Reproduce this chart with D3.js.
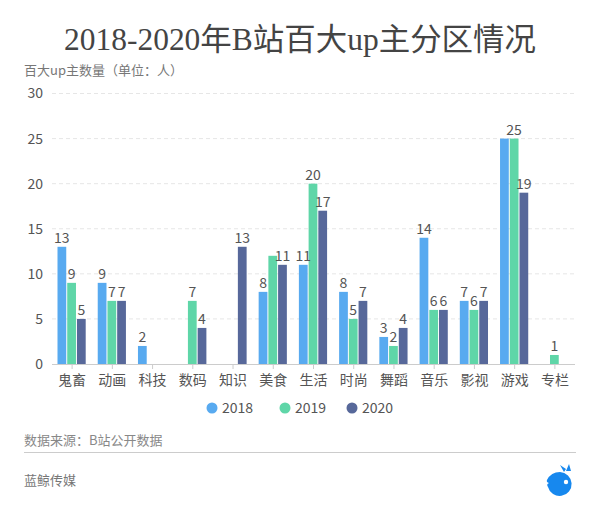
<!DOCTYPE html>
<html><head><meta charset="utf-8">
<script src="https://cdn.jsdelivr.net/npm/d3@7/dist/d3.min.js"></script>
<style>body{margin:0;background:#fff;}svg{display:block;}</style>
</head><body>
<svg id="chart" width="600" height="510"></svg>
<script>
const categories = ["鬼畜","动画","科技","数码","知识","美食","生活","时尚","舞蹈","音乐","影视","游戏","专栏"];
const seriesNames = ["2018","2019","2020"];
const values2018 = [13,9,2,0,0,8,11,8,3,14,7,25,0];
const values2019 = [9,7,0,7,0,12,20,5,2,6,6,25,1];
const values2020 = [5,7,0,4,13,11,17,7,4,6,7,19,0];
const yTicks = [0,5,10,15,20,25,30];
const hiddenLabels = [["美食","2019"],["游戏","2018"]];
const colors = ["#58aaf0","#5fd6a8","#57689a"];

const svg = d3.select("#chart");
const FONT = "'Noto Sans CJK SC','Open Sans',sans-serif";
const plotL = 52, plotR = 575, plotT = 93.5, plotB = 364;

// title
svg.append("text").attr("x",300).attr("y",50).attr("text-anchor","middle")
  .attr("font-family","'Liberation Serif','DejaVu Serif','Noto Sans CJK SC',serif")
  .attr("font-size",31).attr("fill","#444")
  .attr("textLength",472).attr("lengthAdjust","spacingAndGlyphs")
  .text("2018-2020年B站百大up主分区情况");

svg.append("text").attr("x",24).attr("y",75).attr("font-family",FONT)
  .attr("font-size",13).attr("fill","#777").text("百大up主数量（单位：人）");

const y = d3.scaleLinear().domain([0,30]).range([plotB, plotT]);
const x = d3.scaleBand().domain(categories).range([plotL, plotR]).padding(0);
const xs = d3.scaleBand().domain(seriesNames).range([5.5, 33.7]).paddingInner(0.1);

// grid
svg.append("g").selectAll("line").data(yTicks.filter(d=>d>0)).join("line")
  .attr("x1",plotL).attr("x2",plotR).attr("y1",d=>y(d)).attr("y2",d=>y(d))
  .attr("stroke","#e6e6e6").attr("stroke-dasharray","4,3");

const yAxis = svg.append("g").attr("transform",`translate(${plotL},0)`)
  .call(d3.axisLeft(y).tickValues(yTicks).tickSize(0).tickPadding(9));
yAxis.select(".domain").remove();
yAxis.selectAll("text").attr("font-family",FONT).attr("font-size",14).attr("fill","#555");

const table = categories.map((c,i)=>({cat:c, vals:[values2018[i],values2019[i],values2020[i]]}));
const hidden = new Set(hiddenLabels.map(d=>d.join("|")));

const groups = svg.append("g").selectAll("g").data(table).join("g")
  .attr("transform",d=>`translate(${x(d.cat)},0)`);
groups.selectAll("rect").data(d=>d.vals.map((v,k)=>({cat:d.cat,s:seriesNames[k],v,k})).filter(e=>e.v>0))
  .join("rect")
  .attr("x",e=>xs(e.s)).attr("width",xs.bandwidth())
  .attr("y",e=>y(e.v)).attr("height",e=>y(0)-y(e.v))
  .attr("fill",e=>colors[e.k]);
groups.selectAll("text").data(d=>d.vals.map((v,k)=>({cat:d.cat,s:seriesNames[k],v,k}))
    .filter(e=>e.v>0 && !hidden.has(e.cat+"|"+e.s)))
  .join("text")
  .attr("x",e=>xs(e.s)+xs.bandwidth()/2).attr("y",e=>y(e.v)-4)
  .attr("text-anchor","middle").attr("font-family",FONT).attr("font-size",14)
  .attr("fill","#555").text(e=>e.v);

// x axis
const xAxis = svg.append("g").attr("transform",`translate(0,${plotB})`)
  .call(d3.axisBottom(x).tickSize(5).tickPadding(6));
xAxis.select(".domain").attr("stroke","#ccc").attr("d",`M${plotL},0.5H${plotR}`);
xAxis.selectAll(".tick line").attr("stroke","#ccc");
xAxis.selectAll("text").attr("font-family",FONT).attr("font-size",14).attr("fill","#555");

// legend
const legX = [212,285,352];
const leg = svg.append("g").selectAll("g").data(seriesNames).join("g")
  .attr("transform",(d,i)=>`translate(${legX[i]},408)`);
leg.append("circle").attr("r",5.5).attr("fill",(d,i)=>colors[i]);
leg.append("text").attr("x",10).attr("y",5).attr("font-family",FONT).attr("font-size",14)
  .attr("fill","#555").text(d=>d);

// footer
svg.append("text").attr("x",24).attr("y",445).attr("font-family",FONT).attr("font-size",13)
  .attr("fill","#888").text("数据来源：B站公开数据");
svg.append("line").attr("x1",24).attr("x2",576).attr("y1",452.5).attr("y2",452.5)
  .attr("stroke","#ccc");
svg.append("text").attr("x",24).attr("y",485).attr("font-family",FONT).attr("font-size",13)
  .attr("fill","#777").text("蓝鲸传媒");

// logo
const logo = svg.append("g").attr("transform","translate(560,484)");
logo.append("path").attr("fill","#1788ee")
  .attr("d","M-13,-4 Q-9,-12 0,-12 A12,12 0 1 1 -12,3 Q-14,0 -11,-1 Q-14,-2 -13,-4 Z");
logo.append("circle").attr("cx",6).attr("cy",-2).attr("r",2.2).attr("fill","#fff");
logo.append("path").attr("fill","#1788ee").attr("d","M4,-12 L0,-19 L6,-15 Z M6,-13 L9,-20 L11,-13 Z");
</script>
</body></html>
